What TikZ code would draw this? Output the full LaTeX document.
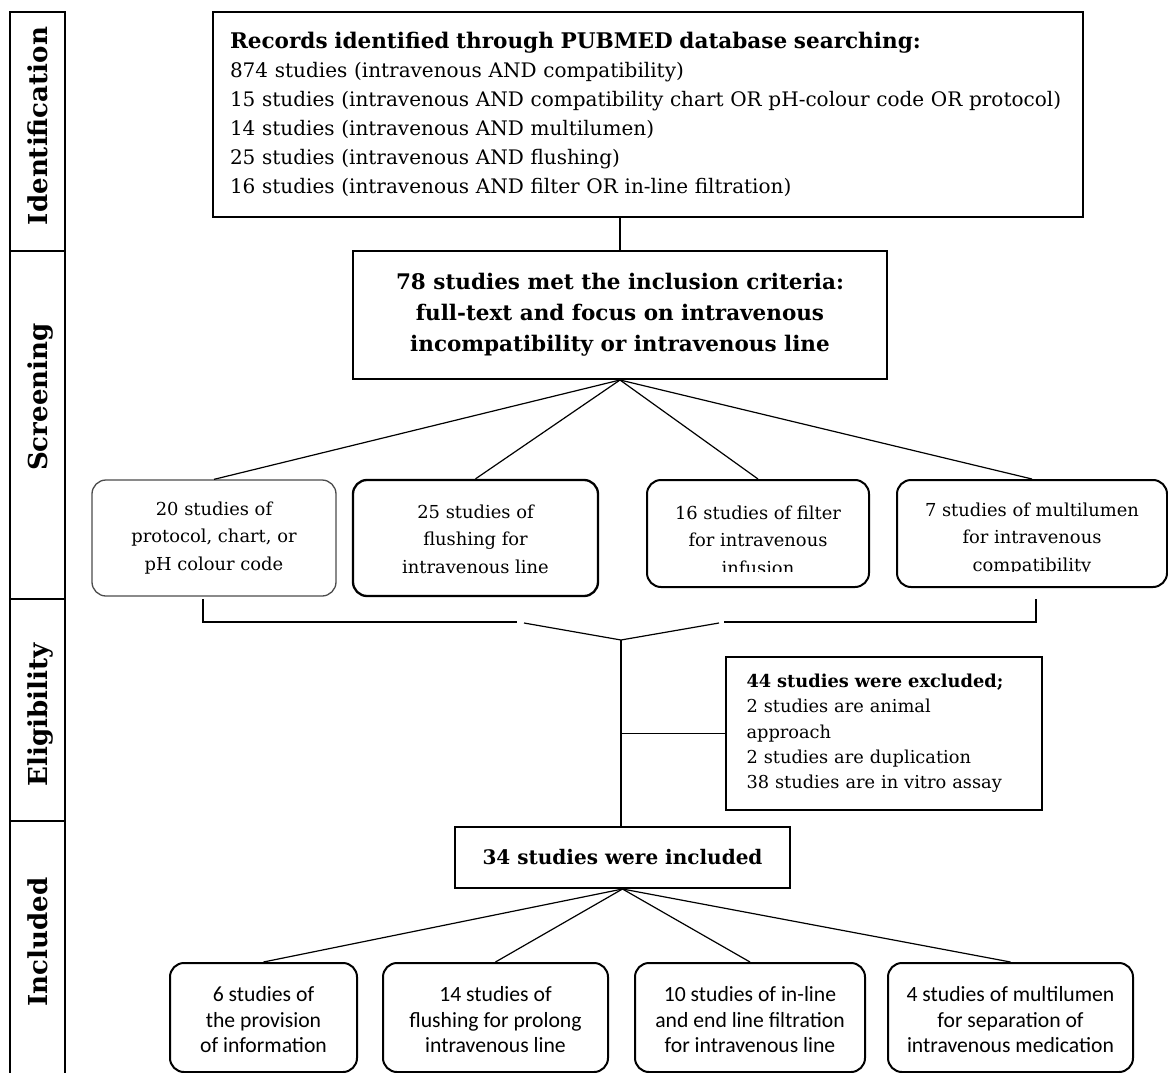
\documentclass[tikz,border=0pt]{standalone}
\usepackage{fontspec}
\setmainfont{DejaVu Serif}
\newfontfamily\calfont{Carlito}
\newlength\mw
\newcommand\fitsize[4]{\settowidth\mw{#2\fontsize{10}{12}\selectfont #3}\pgfmathsetmacro#1{10*#4/\mw}\global\let#1#1}
\begin{document}
\fitsize\szTitle{\bfseries}{Records identified through PUBMED database searching:}{695}%
\fitsize\szBody{}{15 studies (intravenous AND compatibility chart OR pH-colour code OR protocol)}{828}%
\fitsize\szMid{\bfseries}{78 studies met the inclusion criteria:}{448}%
\fitsize\szScr{}{7 studies of multilumen}{214}%
\fitsize\szExc{}{38 studies are in vitro assay}{254}%
\fitsize\szInc{\bfseries}{34 studies were included}{280}%
\fitsize\szBot{\calfont}{intravenous medication}{207}%
\fitsize\szPh{\bfseries}{Identification}{198}%
\begin{tikzpicture}[x=1pt,y=-1pt]
\tikzset{
  sqbox/.style={draw, line width=2pt, inner sep=0pt},
  rbox/.style={draw, line width=2pt, rounded corners=14pt, inner sep=0pt},
  conn/.style={line width=1.2pt},
  phline/.style={line width=1.5pt},
  phase/.style={rotate=90, anchor=base, inner sep=0pt, font=\bfseries\fontsize{\szPh}{\szPh}\selectfont},
  scrtext/.style={align=center, inner sep=0pt, font=\fontsize{\szScr}{27.5}\selectfont},
  bottext/.style={align=center, font=\calfont\fontsize{\szBot}{25.5}\selectfont}
}
\useasboundingbox (0,0) rectangle (1168,1073);
\fill[white] (0,0) rectangle (1168,1073);
% phase column
\draw[phline] (10,1090) -- (10,12) -- (65,12) -- (65,1090);
\draw[phline] (10,251) -- (65,251);
\draw[phline] (10,599) -- (65,599);
\draw[phline] (10,821) -- (65,821);
\node[phase] (phId) at (47,126) {Identification};
\node[phase] (phSc) at (47,397) {Screening};
\node[phase] (phEl) at (47,715) {Eligibility};
\node[phase] (phIn) at (47,942) {Included};
% top box
\node[sqbox, line width=2.5pt, minimum width=870, minimum height=205, text width=836, align=left,
      font=\fontsize{\szBody}{29}\selectfont] (top) at (648,114.5)
  {{\bfseries\fontsize{\szTitle}{29}\selectfont Records identified through PUBMED database searching:}\\
   874 studies (intravenous AND compatibility)\\
   15 studies (intravenous AND compatibility chart OR pH-colour code OR protocol)\\
   14 studies (intravenous AND multilumen)\\
   25 studies (intravenous AND flushing)\\
   16 studies (intravenous AND filter OR in-line filtration)};
% inclusion box
\node[sqbox, minimum width=534, minimum height=128, align=center,
      font=\bfseries\fontsize{\szMid}{31}\selectfont] (mid) at (620,315)
  {78 studies met the inclusion criteria:\\ full-text and focus on intravenous\\ incompatibility or intravenous line};
% screening boxes
\node[rbox, line width=1.3pt, draw=black!70, minimum width=244, minimum height=116] (s1) at (214,538) {};
\node[scrtext] (s1t) at (214,538) {20 studies of\\ protocol, chart, or\\ pH colour code};
\node[rbox, line width=2.3pt, minimum width=245, minimum height=116] (s2) at (475.5,538) {};
\node[scrtext] (s2t) at (475.5,539) {25 studies of\\ flushing for\\ intravenous line};
\node[rbox, minimum width=222, minimum height=107] (s3) at (758,533.5) {};
\node[rbox, minimum width=270, minimum height=107] (s4) at (1032,533.5) {};
\begin{scope}
  \clip (640,470) rectangle (1168,571);
  \node[scrtext] (s3t) at (758,540) {16 studies of filter\\ for intravenous\\ infusion};
  \node[scrtext] (s4t) at (1032,539) {7 studies of multilumen\\ for intravenous\\ compatibility};
\end{scope}
% exclusion box
\node[sqbox, minimum width=316, minimum height=153, text width=275, align=left,
      font=\fontsize{\szExc}{25.3}\selectfont] (excl) at (884,733.5)
  {\textbf{44 studies were excluded;}\\ 2 studies are animal\\ approach\\ 2 studies are duplication\\ 38 studies are in vitro assay};
% included box
\node[sqbox, minimum width=335, minimum height=61, font=\bfseries\fontsize{\szInc}{24}\selectfont] (inc) at (622.5,857.5) {34 studies were included};
% bottom boxes
\node[rbox, minimum width=187, minimum height=109] (bA) at (263.5,1017.5) {};
\node[rbox, minimum width=225, minimum height=109] (bB) at (495.5,1017.5) {};
\node[rbox, minimum width=230, minimum height=109] (bC) at (750,1017.5) {};
\node[rbox, minimum width=245, minimum height=109] (bD) at (1010.5,1017.5) {};
\node[bottext] (bAt) at (263.5,1020) {6 studies of\\ the provision\\ of information};
\node[bottext] (bBt) at (495.5,1020) {14 studies of\\ flushing for prolong\\ intravenous line};
\node[bottext] (bCt) at (750,1020) {10 studies of in-line\\ and end line filtration\\ for intravenous line};
\node[bottext] (bDt) at (1010.5,1020) {4 studies of multilumen\\ for separation of\\ intravenous medication};
% connectors
\draw[conn] (top.south -| mid.north) -- (mid.north);
\foreach \t in {s1,s2,s3,s4} \draw[conn] (mid.south) -- (\t.north);
\coordinate (bL) at (203,599);
\coordinate (bLm) at (517,622);
\coordinate (bLm2) at (524,623);
\coordinate (V) at (621,640);
\coordinate (bRm2) at (719,623);
\coordinate (bRm) at (724,622);
\coordinate (bR) at (1036,599);
\draw[conn] (bL) |- (bLm);
\draw[conn] (bLm2) -- (V) -- (bRm2);
\draw[conn] (bRm) -| (bR);
\draw[conn] (V) -- (V |- inc.north);
\draw[conn] (V |- excl.west) -- (excl.west);
\foreach \t in {bA,bB,bC,bD} \draw[conn] (inc.south) -- (\t.north);
\end{tikzpicture}
\end{document}
